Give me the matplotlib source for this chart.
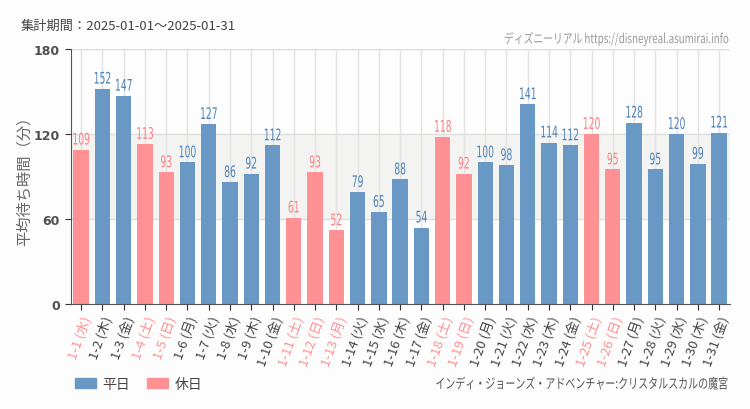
import matplotlib
matplotlib.use("Agg")
import matplotlib.pyplot as plt
from matplotlib.patches import Patch
from matplotlib.patheffects import AbstractPathEffect
from matplotlib.transforms import Affine2D
import numpy as np

# =================
# DANE
# =================
dates = ["1-%d" % d for d in range(1, 32)]
weekdays = ["水", "木", "金", "土", "日", "月", "火", "水", "木", "金",
            "土", "日", "月", "火", "水", "木", "金", "土", "日", "月",
            "火", "水", "木", "金", "土", "日", "月", "火", "水", "木", "金"]
values = [109, 152, 147, 113, 93, 100, 127, 86, 92, 112,
          61, 93, 52, 79, 65, 88, 54, 118, 92, 100,
          98, 141, 114, 112, 120, 95, 128, 95, 120, 99, 121]
holidays = [1, 0, 0, 1, 1, 0, 0, 0, 0, 0,
            1, 1, 1, 0, 0, 0, 0, 1, 1, 0,
            0, 0, 0, 0, 1, 1, 0, 0, 0, 0, 0]
y_ticks = [0, 60, 120, 180]


# =================
# POMOCNICZE
# =================
class Squeeze(AbstractPathEffect):
    """Scisniecie tekstu w poziomie (waski font jak w oryginale)."""

    def __init__(self, sx, anchor="center"):
        super().__init__()
        self.sx = sx
        self.anchor = anchor

    def draw_path(self, renderer, gc, tpath, affine, rgbFace=None):
        ext = tpath.get_extents()
        if self.anchor == "right":
            cx = ext.x1
        elif self.anchor == "left":
            cx = ext.x0
        else:
            cx = (ext.x0 + ext.x1) / 2
        squeeze = Affine2D().translate(-cx, 0).scale(self.sx, 1).translate(cx, 0)
        renderer.draw_path(gc, tpath, squeeze + affine, rgbFace)


# =================
# STYL
# =================
plt.rcParams["font.family"] = ["Noto Sans CJK JP", "DejaVu Sans"]
BLUE = "#6a98c4"
PINK = "#ff9194"
BLUE_TXT = "#4f83b8"
PINK_TXT = "#ff7f84"

fig = plt.figure(figsize=(7.5, 4.1), dpi=100)
fig.patch.set_facecolor("#fcfdfc")
ax = fig.add_axes([0.094, 0.256, 0.879, 0.622])
ax.set_facecolor("#fcfdfc")

x = np.arange(len(values))
colors = [PINK if h else BLUE for h in holidays]

ax.axhspan(60, 120, color="#f3f4f2", zorder=0)
for xi in x:
    ax.axvline(xi, color="#e2e2e2", lw=1, zorder=0.5)
for yt in y_ticks[1:]:
    ax.axhline(yt, color="#dedede", lw=1, zorder=0.5)

ax.bar(x, values, width=0.72, color=colors, zorder=2)

for xi, v, h in zip(x, values, holidays):
    ax.text(xi, v + 1.5, str(v), ha="center", va="bottom",
            color=PINK_TXT if h else BLUE_TXT, fontsize=11.5,
            family="DejaVu Sans", stretch="condensed", weight="medium",
            zorder=3, path_effects=[Squeeze(0.64)])

ax.set_xlim(-0.5, len(values) - 0.5)
ax.set_ylim(0, 180)
ax.set_yticks(y_ticks)
ax.set_yticklabels([str(t) for t in y_ticks], fontsize=9, color="#505050",
                   fontweight="bold", family=["DejaVu Sans"])
ax.set_xticks(x)
labels = ["%s (%s)" % (d, w) for d, w in zip(dates, weekdays)]
ax.set_xticklabels(labels, rotation=70, ha="right", rotation_mode="anchor",
                   fontsize=9.5)
for lbl, h in zip(ax.get_xticklabels(), holidays):
    lbl.set_color(PINK if h else "#444444")

ax.tick_params(axis="both", direction="out", length=4, color="#333333")
ax.tick_params(axis="x", pad=3)
for s in ["top", "right"]:
    ax.spines[s].set_visible(False)
ax.spines["left"].set_color("#555555")
ax.spines["bottom"].set_color("#555555")

ax.set_ylabel("平均待ち時間（分）", fontsize=11, color="#666666")
ax.yaxis.set_label_coords(-0.058, 0.5)

# =================
# TEKSTY
# =================
fig.text(0.027, 0.935, "集計期間：2025-01-01～2025-01-31", fontsize=9.5,
         color="#444444", va="center")
fig.text(0.973, 0.903, "ディズニーリアル https://disneyreal.asumirai.info",
         fontsize=9.5, color="#999999", ha="right", va="center",
         path_effects=[Squeeze(0.74, "right")])
fig.text(0.971, 0.06, "インディ・ジョーンズ・アドベンチャー:クリスタルスカルの魔宮",
         fontsize=10, color="#555555", ha="right", va="center",
         path_effects=[Squeeze(0.72, "right")])

handles = [Patch(color=BLUE, label="平日"), Patch(color=PINK, label="休日")]
fig.legend(handles=handles, loc="center left", bbox_to_anchor=(0.083, 0.061),
           ncol=2, frameon=False, fontsize=10, handlelength=1.5,
           handleheight=0.8, columnspacing=1.2, handletextpad=0.5,
           labelcolor="#444444")

fig.savefig("out.png", dpi=100, facecolor=fig.get_facecolor())
